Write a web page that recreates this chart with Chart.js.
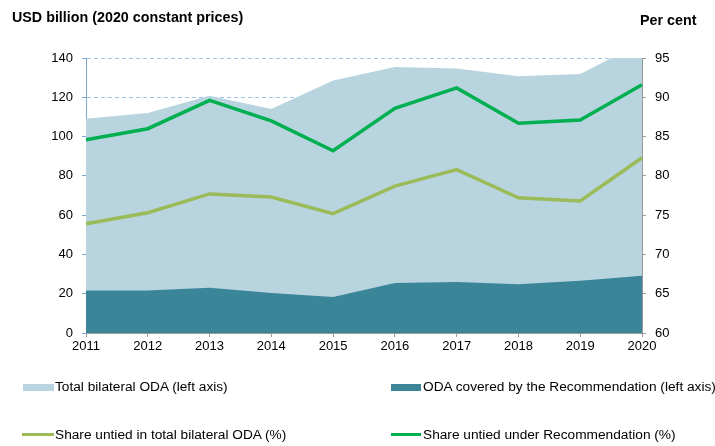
<!DOCTYPE html>
<html>
<head>
<meta charset="utf-8">
<script src="https://cdn.jsdelivr.net/npm/chart.js@4/dist/chart.umd.min.js"></script>
<style>
  html, body { margin: 0; padding: 0; background: #fff; }
  body { font-family: "Liberation Sans", Arial, sans-serif; color: #000; }
  #wrap { position: relative; width: 715px; height: 446px; overflow: hidden; }
  #chart { position: absolute; left: 0; top: 0; }
  .ttl { position: absolute; font-weight: bold; font-size: 14.3px; white-space: nowrap; line-height: 16px; }
  .leg { position: absolute; font-size: 13.7px; white-space: nowrap; line-height: 16px; }
  .sw { position: absolute; }
</style>
</head>
<body>
<div id="wrap">
  <canvas id="chart" width="715" height="446"></canvas>
  <div class="ttl" style="left:12px; top:9px;">USD billion (2020 constant prices)</div>
  <div class="ttl" style="left:640px; top:12px;">Per cent</div>

  <div class="sw" style="left:23px; top:384px; width:31px; height:7px; background:#b7d4df;"></div>
  <div class="leg" style="left:55px; top:379px;">Total bilateral ODA (left axis)</div>
  <div class="sw" style="left:391px; top:384px; width:30px; height:7px; background:#3b8599;"></div>
  <div class="leg" style="left:423px; top:379px;">ODA covered by the Recommendation (left axis)</div>

  <div class="sw" style="left:22px; top:433px; width:32px; height:3px; background:#9bbb59;"></div>
  <div class="leg" style="left:55px; top:427px;">Share untied in total bilateral ODA (%)</div>
  <div class="sw" style="left:391px; top:433px; width:30px; height:3px; background:#00b050;"></div>
  <div class="leg" style="left:423px; top:427px;">Share untied under Recommendation (%)</div>
</div>
<script>
const years = ['2011','2012','2013','2014','2015','2016','2017','2018','2019','2020'];
const totalBilateralODA = [109.1, 112.0, 120.8, 114.0, 128.6, 135.4, 134.6, 130.7, 131.8, 148.0];
const odaCoveredByRecommendation = [21.7, 21.6, 23.1, 20.4, 18.3, 25.5, 26.0, 24.8, 26.6, 29.2];
const shareUntiedTotal = [73.9, 75.3, 77.7, 77.3, 75.2, 78.7, 80.8, 77.2, 76.8, 82.3];
const shareUntiedRecommendation = [84.6, 86.0, 89.6, 87.0, 83.2, 88.6, 91.2, 86.7, 87.1, 91.6];
const leftTicks = [0, 20, 40, 60, 80, 100, 120, 140];
const rightTicks = [60, 65, 70, 75, 80, 85, 90, 95];

const FONT = { family: '"Liberation Sans", Arial, sans-serif', size: 13 };

new Chart(document.getElementById('chart'), {
  type: 'line',
  data: {
    labels: years,
    datasets: [
      {
        label: 'Share untied under Recommendation (%)',
        data: shareUntiedRecommendation,
        yAxisID: 'y1',
        borderColor: '#00b050',
        borderWidth: 3.5,
        pointRadius: 0,
        fill: false,
        tension: 0,
        order: 0
      },
      {
        label: 'Share untied in total bilateral ODA (%)',
        data: shareUntiedTotal,
        yAxisID: 'y1',
        borderColor: '#9bbb59',
        borderWidth: 3.5,
        pointRadius: 0,
        fill: false,
        tension: 0,
        order: 1
      },
      {
        label: 'ODA covered by the Recommendation (left axis)',
        data: odaCoveredByRecommendation,
        yAxisID: 'y',
        borderColor: '#3b8599',
        borderWidth: 0,
        backgroundColor: '#3b8599',
        pointRadius: 0,
        fill: 'origin',
        tension: 0,
        order: 2
      },
      {
        label: 'Total bilateral ODA (left axis)',
        data: totalBilateralODA,
        yAxisID: 'y',
        borderColor: '#b7d4df',
        borderWidth: 0,
        backgroundColor: '#b7d4df',
        pointRadius: 0,
        fill: 'origin',
        tension: 0,
        order: 3
      }
    ]
  },
  options: {
    responsive: false,
    animation: false,
    layout: { padding: { top: 58, left: 0, right: 0, bottom: 0 } },
    plugins: {
      legend: { display: false },
      tooltip: { enabled: false },
      title: { display: false }
    },
    scales: {
      x: {
        type: 'category',
        offset: false,
        grid: { drawOnChartArea: false, drawTicks: true, tickLength: 4, color: '#9a9a9a' },
        border: { color: '#9a9a9a', width: 1 },
        ticks: { font: FONT, color: '#000', padding: 2, maxRotation: 0, autoSkip: false },
        afterFit: (s) => { s.height = 113; }
      },
      y: {
        position: 'left',
        min: 0,
        max: 140,
        afterBuildTicks: (s) => { s.ticks = leftTicks.map(v => ({ value: v })); },
        grid: { color: '#9dc3e6', lineWidth: 1, drawTicks: true, tickLength: 4, tickColor: '#7fa7d6' },
        border: { color: '#7fa7d6', width: 1, dash: [4, 3] },
        ticks: { font: FONT, color: '#000', padding: 9 },
        afterFit: (s) => { s.width = 86; }
      },
      y1: {
        position: 'right',
        min: 60,
        max: 95,
        afterBuildTicks: (s) => { s.ticks = rightTicks.map(v => ({ value: v })); },
        grid: { drawOnChartArea: false, drawTicks: true, tickLength: 4, color: '#9a9a9a' },
        border: { color: '#9a9a9a', width: 1 },
        ticks: { font: FONT, color: '#000', padding: 9 },
        afterFit: (s) => { s.width = 73; }
      }
    }
  }
});
</script>
</body>
</html>
